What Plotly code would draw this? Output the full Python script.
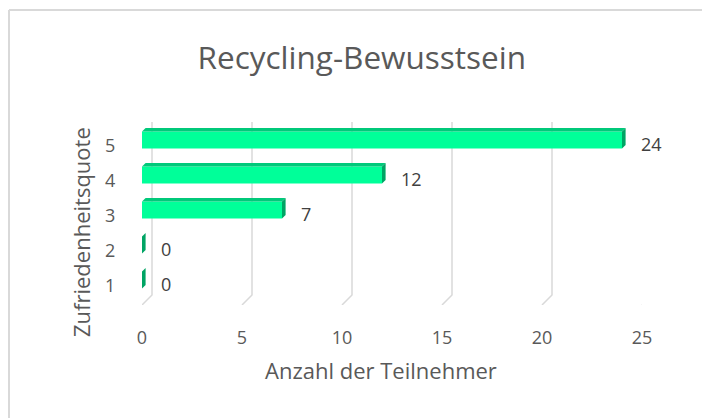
import plotly.graph_objects as go

categories = [1, 2, 3, 4, 5]
category_labels = ["1", "2", "3", "4", "5"]
values = [0, 0, 7, 12, 24]
x_ticks = [0, 5, 10, 15, 20, 25]

title = "Recycling-Bewusstsein"
x_title = "Anzahl der Teilnehmer"
y_title = "Zufriedenheitsquote"

FONT = "Open Sans, Calibri, sans-serif"
BAR = "#00FF99"
TOP = "#00C97A"
SIDE = "#00A464"
GRID = "#D9D9D9"
TXT = "#595959"

bar_w = 0.48
dx, dy = 0.18, 0.1      # depth of the 3D face (data units)
gd, g_lo = 0.5, 0.571   # gridline back-wall offset and where the floor starts
y_lo, y_hi = 0.286, 5.514

fig = go.Figure()
fig.add_trace(go.Bar(
    x=values, y=categories, orientation="h", width=bar_w,
    marker=dict(color=BAR, line=dict(width=0)), hoverinfo="x+y",
))

shapes = []
for t in x_ticks:
    shapes.append(dict(
        type="path", xref="x", yref="y", layer="below",
        path=f"M {t+gd},{y_hi} L {t+gd},{g_lo} L {t},{y_lo}",
        line=dict(color=GRID, width=1.5),
    ))
for c, v in zip(categories, values):
    yt = c + bar_w / 2
    yb = c - bar_w / 2
    if v > 0:
        shapes.append(dict(
            type="path", xref="x", yref="y",
            path=f"M 0,{yt} L {v},{yt} L {v+dx},{yt+dy} L {dx},{yt+dy} Z",
            fillcolor=TOP, line=dict(width=0),
        ))
    shapes.append(dict(
        type="path", xref="x", yref="y",
        path=f"M {v},{yb} L {v},{yt} L {v+dx},{yt+dy} L {v+dx},{yb+dy} Z",
        fillcolor=SIDE, line=dict(width=0),
    ))
# chart border (only top and left edges visible)
shapes.append(dict(type="line", xref="paper", yref="paper",
                   x0=-0.266, x1=1.2, y0=1.612, y1=1.612,
                   line=dict(color=GRID, width=2), layer="below"))
shapes.append(dict(type="line", xref="paper", yref="paper",
                   x0=-0.266, x1=-0.266, y0=1.612, y1=-0.7,
                   line=dict(color=GRID, width=2), layer="below"))

annotations = []
for c, v in zip(categories, values):
    annotations.append(dict(
        x=v, y=c, xref="x", yref="y", text=str(v), showarrow=False,
        xanchor="left", xshift=17, yshift=-4,
        font=dict(family=FONT, size=18, color="#404040"),
    ))
for c, lab in zip(categories, category_labels):
    annotations.append(dict(
        x=-0.064, y=c, xref="paper", yref="y", text=lab, showarrow=False,
        xanchor="center", yshift=-5,
        font=dict(family=FONT, size=18, color=TXT),
    ))
annotations.append(dict(
    x=-0.123, y=0.396, xref="paper", yref="paper", text=y_title, showarrow=False,
    textangle=-90, xanchor="center", yanchor="middle",
    font=dict(family=FONT, size=22, color=TXT),
))
annotations.append(dict(
    x=0.478, y=-0.355, xref="paper", yref="paper", text=x_title, showarrow=False,
    xanchor="center", yanchor="middle",
    font=dict(family=FONT, size=22, color=TXT),
))

# page body has an 8px margin, so the figure is sized to the remaining area
fig.update_layout(
    width=702, height=410,
    margin=dict(l=134, r=68, t=114, b=113),
    paper_bgcolor="white", plot_bgcolor="rgba(0,0,0,0)",
    showlegend=False,
    title=dict(text=title, x=0.504, xanchor="center", y=0.878, yanchor="middle",
               font=dict(family=FONT, size=31.5, color=TXT)),
    xaxis=dict(range=[0, 25], tickvals=x_ticks, showgrid=False, zeroline=False,
               showline=False, ticks="outside", ticklen=16, tickcolor="rgba(0,0,0,0)",
               automargin=False,
               tickfont=dict(family=FONT, size=18, color=TXT)),
    yaxis=dict(range=[y_lo, y_hi], tickvals=categories, showticklabels=False,
               showgrid=False, zeroline=False, showline=False, automargin=False),
    shapes=shapes, annotations=annotations,
)

fig.write_html("out.html")
